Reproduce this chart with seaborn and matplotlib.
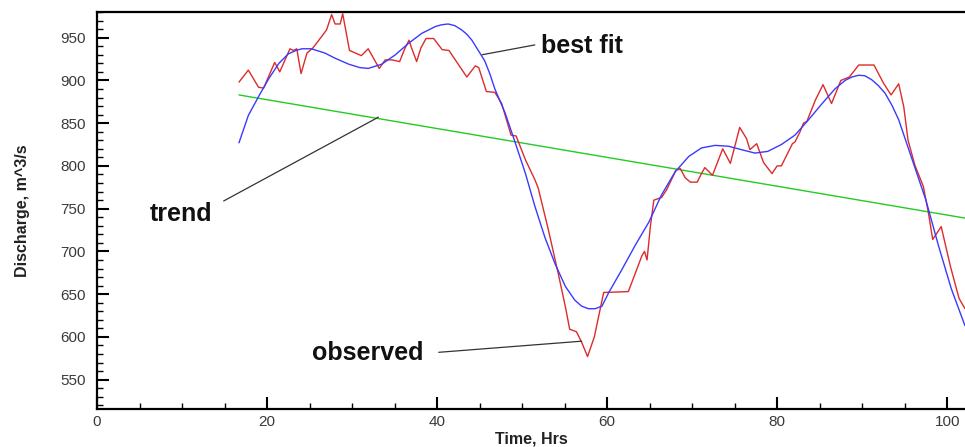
import numpy as np
import pandas as pd
import matplotlib
matplotlib.use("Agg")
import matplotlib.pyplot as plt
from matplotlib.ticker import MultipleLocator
import seaborn as sns

# ---- data ----
obs_hrs = [16.7, 17.8, 19.0, 19.6, 20.9, 21.5, 22.7, 23.1, 23.5, 24.0, 24.7, 25.4, 26.4, 27.0,
           27.6, 28.0, 28.6, 28.9, 29.7, 31.1, 31.9, 33.2, 33.9, 34.7, 35.6, 36.2, 36.7, 37.0,
           37.6, 38.1, 38.7, 39.6, 40.6, 41.4, 43.5, 44.5, 44.9, 45.8, 46.8, 47.6, 48.7, 49.3,
           50.4, 51.5, 51.9, 53.1, 54.3, 55.1, 55.6, 56.4, 57.0, 57.7, 58.5, 59.6, 62.5, 64.1,
           64.4, 64.7, 65.1, 65.5, 66.4, 67.0, 68.1, 68.6, 69.2, 69.8, 70.6, 71.1, 71.5, 72.4,
           73.6, 74.5, 75.6, 76.4, 76.8, 77.6, 78.4, 79.4, 80.0, 80.5, 81.8, 82.1, 82.7, 83.1,
           83.5, 84.5, 85.4, 86.4, 87.5, 88.5, 89.6, 91.4, 92.5, 93.4, 94.3, 94.9, 95.4, 96.2,
           97.2, 97.8, 98.3, 99.3, 100.4, 101.4, 102.1]
obs_vals = [898, 912, 892, 891, 921, 910, 937, 935, 937, 908, 932, 938, 951, 959,
            977, 966, 966, 978, 935, 929, 937, 914, 924, 924, 922, 937, 947, 938,
            922, 938, 949, 949, 936, 935, 904, 917, 915, 887, 886, 873, 836, 835,
            807, 784, 774, 725, 672, 635, 609, 606, 594, 577, 600, 652, 653, 695,
            700, 690, 730, 760, 763, 772, 795, 797, 786, 781, 781, 791, 798, 789,
            820, 803, 845, 832, 819, 826, 804, 791, 800, 800, 826, 828, 840, 850,
            852, 877, 895, 873, 900, 904, 918, 918, 897, 883, 896, 869, 830, 801,
            776, 745, 714, 729, 682, 645, 633]

fit_hrs = [16.7, 17.8, 19.0, 20.2, 21.4, 22.5, 23.4, 24.1, 25.2, 26.8, 28.0, 29.6, 30.9, 31.9,
           33.5, 35.1, 36.6, 38.2, 39.8, 40.5, 41.3, 42.1, 42.9, 43.5, 44.1, 44.6, 45.1, 45.6,
           46.2, 46.8, 47.4, 48.0, 49.2, 50.4, 51.5, 52.7, 53.9, 55.1, 56.2, 57.0, 57.8, 58.6,
           59.4, 60.2, 61.7, 63.3, 64.9, 66.4, 68.0, 69.6, 71.1, 72.7, 74.3, 75.8, 77.4, 78.9,
           80.5, 82.1, 83.7, 85.3, 86.8, 88.0, 88.8, 89.6, 90.3, 91.1, 91.9, 92.7, 93.5, 94.3,
           95.9, 97.5, 99.0, 100.5, 102.1]
fit_vals = [827, 859, 881, 902, 920, 931, 935, 937, 937, 932, 926, 919, 915, 914,
            919, 930, 943, 955, 963, 965, 966, 964, 959, 954, 947, 939, 931, 923,
            908, 890, 876, 862, 827, 791, 753, 716, 685, 659, 643, 636, 633, 633,
            636, 652, 678, 707, 734, 766, 793, 811, 821, 824, 823, 819, 815, 817,
            825, 836, 854, 873, 890, 900, 904, 906, 905.5, 901, 894, 885, 871, 854,
            807, 760, 706, 656, 613]

trend_hrs = [16.7, 102.1]
trend_vals = [883, 739]

x_ticks = [0, 20, 40, 60, 80, 100]
y_ticks = [550, 600, 650, 700, 750, 800, 850, 900, 950]

# ---- style ----
sns.set_theme(style="ticks")
plt.rcParams['font.family'] = ['Liberation Sans', 'DejaVu Sans']

fig = plt.figure(figsize=(9.65, 4.47), dpi=100)
ax = fig.add_axes([97/965, 1 - 409/447, 1 - 97/965, (409 - 12)/447])

obs_df = pd.DataFrame({"Time": obs_hrs, "Discharge": obs_vals})
fit_df = pd.DataFrame({"Time": fit_hrs, "Discharge": fit_vals})
trend_df = pd.DataFrame({"Time": trend_hrs, "Discharge": trend_vals})

sns.lineplot(data=trend_df, x="Time", y="Discharge", ax=ax, color="#22cc22", lw=1.0,
             sort=False, estimator=None)
sns.lineplot(data=obs_df, x="Time", y="Discharge", ax=ax, color="#dd2b2b", lw=1.0,
             sort=False, estimator=None)
sns.lineplot(data=fit_df, x="Time", y="Discharge", ax=ax, color="#3a3aff", lw=1.0,
             sort=False, estimator=None)

ax.set_xlim(0, 102.1)
ax.set_ylim(515.7, 980)
ax.set_xticks(x_ticks)
ax.set_yticks(y_ticks)
ax.xaxis.set_minor_locator(MultipleLocator(5))
ax.yaxis.set_minor_locator(MultipleLocator(10))

ax.tick_params(which='major', direction='in', length=8.6, width=1.5, color='black',
               labelsize=11, labelcolor='#3a3a3a')
ax.tick_params(which='minor', direction='in', length=4.3, width=1.0, color='black')
ax.tick_params(axis='y', which='major', pad=8)
ax.tick_params(axis='x', which='major', pad=4)

for side in ['left', 'bottom', 'top']:
    ax.spines[side].set_linewidth(1.6)
    ax.spines[side].set_color('black')
ax.spines['right'].set_visible(False)

ax.set_xlabel("Time, Hrs", fontsize=11.5, fontweight='bold', color='#222222', labelpad=2)
ax.set_ylabel("Discharge, m^3/s", fontsize=11.5, fontweight='bold', color='#222222', labelpad=22)

# ---- annotations ----
line_kw = dict(arrowstyle='-', color='#333333', lw=0.9, shrinkA=0, shrinkB=0)
ax.annotate('', xy=(33.1, 857), xytext=(14.9, 759), arrowprops=line_kw)
ax.text(6.2, 736, "trend", fontsize=18, fontweight='bold', color='#111111', va='baseline')

ax.annotate('', xy=(51.5, 941.5), xytext=(45.3, 930), arrowprops=line_kw)
ax.text(52.2, 932, "best fit", fontsize=18, fontweight='bold', color='#111111', va='baseline')

ax.annotate('', xy=(57.0, 595), xytext=(40.2, 582), arrowprops=line_kw)
ax.text(25.3, 573, "observed", fontsize=18, fontweight='bold', color='#111111', va='baseline')

fig.savefig("out.png", dpi=100)
